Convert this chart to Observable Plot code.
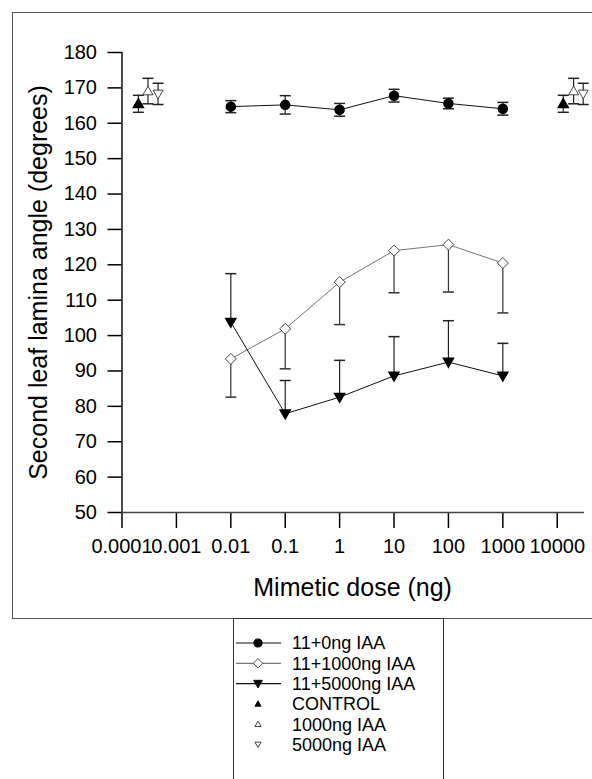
<!DOCTYPE html>
<html>
<head>
<meta charset="utf-8">
<script src="https://cdn.jsdelivr.net/npm/d3@7"></script>
<script src="https://cdn.jsdelivr.net/npm/@observablehq/plot@0.6"></script>
<style>
  html, body { margin: 0; padding: 0; background: #fff; overflow: hidden; }
  #wrap { position: relative; width: 592px; height: 779px; font-family: "Liberation Sans", Arial, sans-serif; }
  #box { position: absolute; left: 12px; top: 12px; width: 600px; height: 605px; border: 1.5px solid #555; pointer-events: none; }
  #legend { position: absolute; left: 233px; top: 618px; width: 209px; height: 200px; border: 1.5px solid #333; border-bottom: none; background: #fff; }
</style>
</head>
<body>
<div id="wrap">
  <div id="chart"></div>
  <div id="box"></div>
  <div id="legend"></div>
</div>
<script>
// ---- data ----
const doses = [0.01, 0.1, 1, 10, 100, 1000];
const mean0 = [164.7, 165.2, 163.8, 167.8, 165.6, 164.1];
const err0 = [1.7, 2.6, 1.8, 1.8, 1.5, 1.8];
const mean1000 = [93.4, 101.9, 115.1, 124.0, 125.7, 120.5];
const err1000 = [10.8, 11.3, 12.0, 11.9, 13.4, 14.1];
const mean5000 = [103.8, 77.9, 82.6, 88.6, 92.5, 88.6];
const err5000 = [13.7, 9.4, 10.4, 11.1, 11.7, 9.2];

const ctrlNames = ["CONTROL", "1000ng IAA", "5000ng IAA"];
const ctrlDosesLeft = [0.0002, 0.0003, 0.00046];
const ctrlDosesRight = [12900, 20000, 30000];
const ctrlMeans = [165.5, 169.1, 168.3];
const ctrlErr = [2.4, 3.6, 3.0];

const seriesNames = ["11+0ng IAA", "11+1000ng IAA", "11+5000ng IAA"];
const xTicks = [0.0001, 0.001, 0.01, 0.1, 1, 10, 100, 1000, 10000];
const xTickLabels = ["0.0001", "0.001", "0.01", "0.1", "1", "10", "100", "1000", "10000"];
const yTicks = [50, 60, 70, 80, 90, 100, 110, 120, 130, 140, 150, 160, 170, 180];
const xLabel = "Mimetic dose (ng)";
const yLabel = "Second leaf lamina angle (degrees)";

// ---- symbols ----
const capSym = { draw(ctx, size) { const r = Math.sqrt(size / Math.PI); ctx.moveTo(-r, 0); ctx.lineTo(r, 0); } };
const triUp = { draw(ctx, size) { const r = Math.sqrt(size / Math.PI); ctx.moveTo(0, -r); ctx.lineTo(r, r * 0.75); ctx.lineTo(-r, r * 0.75); ctx.closePath(); } };
const triDown = { draw(ctx, size) { const r = Math.sqrt(size / Math.PI); ctx.moveTo(0, r); ctx.lineTo(r, -r * 0.75); ctx.lineTo(-r, -r * 0.75); ctx.closePath(); } };
const diam = { draw(ctx, size) { const r = Math.sqrt(size / Math.PI); ctx.moveTo(0, -r); ctx.lineTo(r, 0); ctx.lineTo(0, r); ctx.lineTo(-r, 0); ctx.closePath(); } };

// ---- tables ----
const mk = (means, errs, dir) => doses.map((d, i) => ({
  x: d, y: means[i],
  lo: dir === "up" ? means[i] : means[i] - errs[i],
  hi: dir === "down" ? means[i] : means[i] + errs[i]
}));
const s0 = mk(mean0, err0, "both");
const s1 = mk(mean1000, err1000, "down");
const s2 = mk(mean5000, err5000, "up");
const ctrl = [];
[ctrlDosesLeft, ctrlDosesRight].forEach(ds => ds.forEach((d, i) => ctrl.push({
  x: d, y: ctrlMeans[i], lo: ctrlMeans[i] - ctrlErr[i], hi: ctrlMeans[i] + ctrlErr[i], k: i
})));

const caps = (rows, which) => rows.flatMap(r => {
  const out = [];
  if (which !== "up") out.push({ x: r.x, y: r.lo });
  if (which !== "down") out.push({ x: r.x, y: r.hi });
  return out;
});

const tickMap = new Map(xTicks.map((t, i) => [t, xTickLabels[i]]));
const font = "Liberation Sans, Arial, sans-serif";

const chart = Plot.plot({
  width: 592,
  height: 618,
  marginLeft: 121.5,
  marginRight: 9.3,
  marginTop: 52,
  marginBottom: 106,
  style: { fontFamily: font, fontSize: "20px", background: "transparent", color: "#000" },
  x: { type: "log", domain: [0.0001, 30000] },
  y: { domain: [50, 180] },
  marks: [
    Plot.axisY({ ticks: yTicks, tickSize: 14, tickPadding: 11, fontSize: 20, label: null, strokeWidth: 1.5 }),
    Plot.axisX({ ticks: xTicks, tickFormat: d => tickMap.get(d), tickSize: 16, tickPadding: 10, fontSize: 20, label: null, strokeWidth: 1.5 }),
    Plot.frame({ anchor: "left", stroke: "#111", strokeWidth: 1.5 }),
    Plot.frame({ anchor: "bottom", stroke: "#444", strokeWidth: 1.5 }),
    // lines
    Plot.line(s1, { x: "x", y: "y", stroke: "#666", strokeWidth: 0.9 }),
    Plot.line(s0, { x: "x", y: "y", stroke: "#111", strokeWidth: 1 }),
    Plot.line(s2, { x: "x", y: "y", stroke: "#111", strokeWidth: 1 }),
    // error bars
    Plot.ruleX(s0, { x: "x", y1: "lo", y2: "hi", stroke: "#222", strokeWidth: 1.2 }),
    Plot.dot(caps(s0, "both"), { x: "x", y: "y", symbol: capSym, r: 5.5, stroke: "#222", strokeWidth: 1.5 }),
    Plot.ruleX(s1, { x: "x", y1: "lo", y2: "hi", stroke: "#333", strokeWidth: 1.2 }),
    Plot.dot(caps(s1, "down"), { x: "x", y: "y", symbol: capSym, r: 5.5, stroke: "#333", strokeWidth: 1.5 }),
    Plot.ruleX(s2, { x: "x", y1: "lo", y2: "hi", stroke: "#222", strokeWidth: 1.2 }),
    Plot.dot(caps(s2, "up"), { x: "x", y: "y", symbol: capSym, r: 5.5, stroke: "#222", strokeWidth: 1.5 }),
    Plot.ruleX(ctrl, { x: "x", y1: "lo", y2: "hi", stroke: "#222", strokeWidth: 1.2 }),
    Plot.dot(caps(ctrl, "both"), { x: "x", y: "y", symbol: capSym, r: 5.5, stroke: "#222", strokeWidth: 1.5 }),
    // markers
    Plot.dot(s0, { x: "x", y: "y", r: 4.5, fill: "#000", stroke: "#000" }),
    Plot.dot(s1, { x: "x", y: "y", symbol: diam, r: 5.5, fill: "#fff", stroke: "#333", strokeWidth: 0.9 }),
    Plot.dot(s2, { x: "x", y: "y", symbol: triDown, r: 5, fill: "#000", stroke: "#000" }),
    Plot.dot(ctrl.filter(d => d.k === 0), { x: "x", y: "y", symbol: triUp, r: 5, fill: "#000", stroke: "#000" }),
    Plot.dot(ctrl.filter(d => d.k === 1), { x: "x", y: "y", symbol: triUp, r: 5, fill: "#fff", stroke: "#333", strokeWidth: 0.9 }),
    Plot.dot(ctrl.filter(d => d.k === 2), { x: "x", y: "y", symbol: triDown, r: 5, fill: "#fff", stroke: "#333", strokeWidth: 0.9 }),
    // axis titles
    Plot.text([xLabel], { text: d => d, frameAnchor: "bottom", dy: 75, lineAnchor: "middle", textAnchor: "middle", fontSize: 25, fill: "#000" }),
    Plot.text([yLabel], { text: d => d, frameAnchor: "left", dx: -83, rotate: -90, textAnchor: "middle", lineAnchor: "middle", fontSize: 25, fill: "#000" })
  ]
});
document.getElementById("chart").appendChild(chart);

// ---- legend ----
const leg = d3.select("#legend").append("svg").attr("width", 209).attr("height", 161)
  .style("font-family", font).style("font-size", "18px");
const legItems = [
  { label: seriesNames[0], line: "#111", sym: d3.symbolCircle, size: 52, fill: "#000", stroke: "#000" },
  { label: seriesNames[1], line: "#777", sym: diam, size: 70, fill: "#fff", stroke: "#333" },
  { label: seriesNames[2], line: "#111", sym: triDown, size: 60, fill: "#000", stroke: "#000" },
  { label: ctrlNames[0], line: null, sym: triUp, size: 30, fill: "#000", stroke: "#000" },
  { label: ctrlNames[1], line: null, sym: triUp, size: 30, fill: "#fff", stroke: "#333" },
  { label: ctrlNames[2], line: null, sym: triDown, size: 30, fill: "#fff", stroke: "#333" }
];
legItems.forEach((it, i) => {
  const y = 24 + i * 20.3;
  const g = leg.append("g").attr("transform", `translate(0,${y})`);
  if (it.line) g.append("line").attr("x1", 2).attr("x2", 47).attr("y1", 0).attr("y2", 0)
    .attr("stroke", it.line).attr("stroke-width", 1.2);
  g.append("path").attr("transform", "translate(24,0)")
    .attr("d", d3.symbol(it.sym, it.size)())
    .attr("fill", it.fill).attr("stroke", it.stroke).attr("stroke-width", 0.9);
  g.append("text").attr("x", 58).attr("y", 0).attr("dy", "0.35em").attr("fill", "#000").text(it.label);
});
</script>
</body>
</html>
